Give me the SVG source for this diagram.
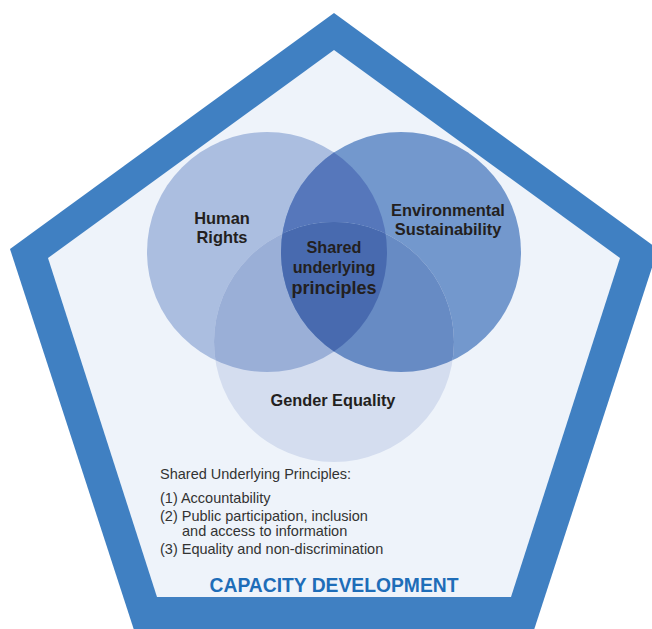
<svg xmlns="http://www.w3.org/2000/svg" width="652" height="629" viewBox="0 0 652 629">
  <style>
    .lbl { font-family: "Liberation Sans", Arial, sans-serif; font-weight: bold; fill: #231f20; text-anchor: middle; }
    .list { font-family: "Liberation Sans", Arial, sans-serif; font-size: 14.5px; fill: #333333; }
    .title { font-family: "Liberation Sans", Arial, sans-serif; font-weight: bold; font-size: 19.3px; fill: #1e6db8; text-anchor: middle; }
  </style>
  <defs>
    <clipPath id="cHR"><circle cx="267" cy="252" r="120"/></clipPath>
    <clipPath id="cES"><circle cx="401" cy="252" r="120"/></clipPath>
  </defs>
  <rect width="652" height="629" fill="#ffffff"/>
  <g id="pentagon">
    <polygon points="334,13 658,249 534,630 134,630 10,249" fill="#4080c2"/>
    <polygon points="334,50 620,258 511,597 157,597 48,258" fill="#eef3fa"/>
  </g>
  <g id="venn">
    <g id="human-rights">
      <circle cx="267" cy="252" r="120" fill="#abbee0"/>
    </g>
    <g id="environmental-sustainability">
      <circle cx="401" cy="252" r="120" fill="#7398cd"/>
      <circle cx="401" cy="252" r="120" fill="#5677bb" clip-path="url(#cHR)"/>
    </g>
    <g id="gender-equality">
      <circle cx="334" cy="342" r="120" fill="#d4ddef"/>
      <circle cx="334" cy="342" r="120" fill="#9aafd7" clip-path="url(#cHR)"/>
      <circle cx="334" cy="342" r="120" fill="#678bc4" clip-path="url(#cES)"/>
      <g clip-path="url(#cHR)">
        <circle cx="334" cy="342" r="120" fill="#486aaf" clip-path="url(#cES)"/>
      </g>
    </g>
  </g>
  <g id="labels">
    <text class="lbl" font-size="16.4" x="222" y="224">Human</text>
    <text class="lbl" font-size="16.4" x="222" y="243">Rights</text>
    <text class="lbl" font-size="16.4" x="448" y="216">Environmental</text>
    <text class="lbl" font-size="16.4" x="448" y="235">Sustainability</text>
    <text class="lbl" font-size="16.2" x="334" y="253">Shared</text>
    <text class="lbl" font-size="16.2" x="334" y="273">underlying</text>
    <text class="lbl" font-size="18" x="334" y="294">principles</text>
    <text class="lbl" font-size="16.3" x="333" y="406">Gender Equality</text>
  </g>
  <g id="principles-list">
    <text class="list" x="160" y="479">Shared Underlying Principles:</text>
    <text class="list" x="160" y="503">(1) Accountability</text>
    <text class="list" x="160" y="521">(2) Public participation, inclusion</text>
    <text class="list" x="182" y="536">and access to information</text>
    <text class="list" x="160" y="554">(3) Equality and non-discrimination</text>
  </g>
  <g id="capacity-development">
    <text class="title" x="334" y="592">CAPACITY DEVELOPMENT</text>
  </g>
</svg>
